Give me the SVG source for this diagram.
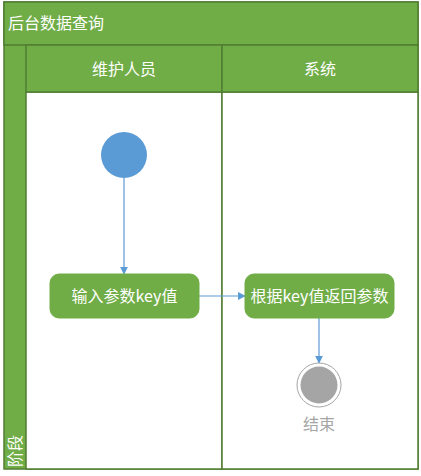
<svg xmlns="http://www.w3.org/2000/svg" width="421" height="476" viewBox="0 0 421 476">
<defs>
<style>
.band{fill:#70AD47;stroke:#507E32;stroke-width:1.5}
.lane{fill:#FFFFFF;stroke:#507E32;stroke-width:1.5}
.wt{fill:#FFFFFF;font-family:"Noto Sans CJK SC","Liberation Sans",sans-serif;font-size:16px}
.act{fill:#70AD47;stroke:#70AD47}
.conn{stroke:#5B9BD5;stroke-width:1.2;fill:none;marker-end:url(#ah)}
</style>
<marker id="ah" viewBox="0 0 10 10" refX="9" refY="5" markerWidth="8" markerHeight="8" markerUnits="userSpaceOnUse" orient="auto">
<path d="M0,0 L10,5 L0,10 z" fill="#5B9BD5"/>
</marker>
</defs>
<g id="pool">
<rect class="band" x="4" y="2" width="414" height="467"/>
<rect class="band" x="4" y="2" width="414" height="43"/>
<text class="wt" x="8" y="29">后台数据查询</text>
<rect class="lane" x="26" y="92" width="196" height="377"/>
<rect class="lane" x="222" y="92" width="196" height="377"/>
<rect class="band" x="26" y="45" width="196" height="47"/>
<rect class="band" x="222" y="45" width="196" height="47"/>
<text class="wt" x="124" y="75" text-anchor="middle">维护人员</text>
<text class="wt" x="320" y="75" text-anchor="middle">系统</text>
<text class="wt" transform="translate(21,467) rotate(-90)">阶段</text>
</g>
<g id="connectors">
<line class="conn" x1="124" y1="178" x2="124" y2="274"/>
<line class="conn" x1="199" y1="296" x2="245" y2="296"/>
<line class="conn" x1="319" y1="318" x2="319" y2="363"/>
</g>
<g id="start">
<circle cx="124" cy="155" r="23" fill="#5B9BD5"/>
</g>
<g id="act1">
<rect class="act" x="50" y="274" width="149" height="44" rx="9"/>
<text class="wt" x="124.5" y="302" text-anchor="middle">输入参数key值</text>
</g>
<g id="act2">
<rect class="act" x="245" y="274" width="149" height="44" rx="9"/>
<text class="wt" x="319.5" y="302" text-anchor="middle">根据key值返回参数</text>
</g>
<g id="end">
<circle cx="319" cy="385" r="22" fill="#FFFFFF" stroke="#A5A5A5" stroke-width="1"/>
<circle cx="319" cy="385" r="18.5" fill="#A5A5A5"/>
<text x="319" y="430" text-anchor="middle" fill="#A5A5A5" font-family="Noto Sans CJK SC,Liberation Sans,sans-serif" font-size="16">结束</text>
</g>
</svg>
